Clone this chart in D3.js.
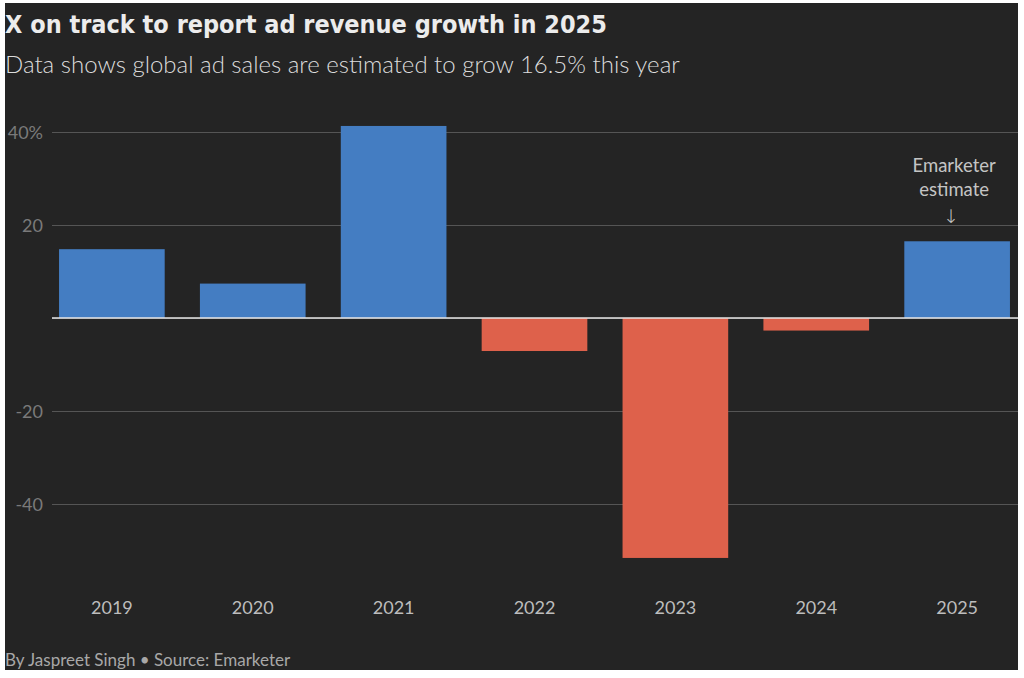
<!DOCTYPE html>
<html>
<head>
<meta charset="utf-8">
<script src="https://cdn.jsdelivr.net/npm/d3@7"></script>
<style>
  body { margin: 0; background: #fff; }
</style>
</head>
<body>
<div id="chart"></div>
<script>
// data
var years = ["2019", "2020", "2021", "2022", "2023", "2024", "2025"];
var growth = [14.8, 7.4, 41.3, -7.1, -51.6, -2.7, 16.5];
var yTicks = [-40, -20, 0, 20, 40];

var W = 1024, H = 678;
var margin = {top: 132, right: 7, bottom: 120, left: 52};

var svg = d3.select("#chart")
  .append("svg")
    .attr("width", W)
    .attr("height", H);

// dark panel
svg.append("rect")
  .attr("x", 5).attr("y", 3)
  .attr("width", 1013).attr("height", 667)
  .attr("fill", "#242424");

var x = d3.scaleBand()
  .domain(years)
  .range([margin.left, W - margin.right])
  .paddingInner(0.25)
  .paddingOuter(0.05);

var y = d3.scaleLinear()
  .domain([-40, 40])
  .range([504, 132]);

// gridlines + tick labels
var yAxis = svg.append("g")
  .attr("transform", "translate(" + margin.left + ",0)")
  .call(d3.axisLeft(y)
    .tickValues(yTicks)
    .tickSize(-(1018 - margin.left))
    .tickFormat(function(d){ return d == 40 ? "40%" : d; }));
yAxis.select(".domain").remove();
yAxis.selectAll(".tick line")
  .attr("stroke", "#555")
  .attr("stroke-width", 1.2);
yAxis.selectAll(".tick text")
  .attr("x", -9)
  .attr("dy", "0.35em")
  .attr("fill", "#7a7a7a")
  .attr("font-family", "Lato, sans-serif")
  .attr("font-size", "18px");
yAxis.selectAll(".tick").filter(function(d){ return d === 0; }).select("text").remove();

// bars
svg.selectAll("rect.bar")
  .data(years)
  .enter()
  .append("rect")
    .attr("class", "bar")
    .attr("x", function(d){ return x(d); })
    .attr("width", x.bandwidth())
    .attr("y", function(d, i){ return y(Math.max(0, growth[i])); })
    .attr("height", function(d, i){ return Math.abs(y(growth[i]) - y(0)); })
    .attr("fill", function(d, i){ return growth[i] >= 0 ? "#447dc2" : "#de614b"; });

// zero line
svg.append("line")
  .attr("x1", margin.left).attr("x2", 1018)
  .attr("y1", y(0)).attr("y2", y(0))
  .attr("stroke", "#e6e6e6")
  .attr("stroke-width", 1.5);

// year labels
var xAxis = svg.append("g")
  .attr("transform", "translate(0,608)")
  .call(d3.axisBottom(x).tickSize(0));
xAxis.select(".domain").remove();
xAxis.selectAll(".tick text")
  .attr("y", 0)
  .attr("dy", "0.35em")
  .attr("fill", "#bdbdbd")
  .attr("font-family", "Lato, sans-serif")
  .attr("font-size", "18px");

// annotation on the 2025 bar
var ax = x("2025") + x.bandwidth() / 2;
var note = svg.append("text")
  .attr("text-anchor", "middle")
  .attr("fill", "#c4c4c4")
  .attr("font-family", "Lato, sans-serif")
  .attr("font-size", "18.5px");
note.append("tspan").attr("x", ax - 3).attr("y", 172).text("Emarketer");
note.append("tspan").attr("x", ax - 3).attr("y", 196).text("estimate");
svg.append("text")
  .attr("x", ax - 6).attr("y", 223)
  .attr("text-anchor", "middle")
  .attr("fill", "#c4c4c4")
  .attr("font-family", "DejaVu Sans, sans-serif")
  .attr("font-size", "19px")
  .attr("font-weight", 300)
  .text("\u2193");

// title
svg.append("text")
  .attr("x", 5).attr("y", 33)
  .text("X on track to report ad revenue growth in 2025")
  .attr("font-family", "'DejaVu Sans Condensed', sans-serif")
  .attr("font-weight", "bold")
  .attr("font-size", "25px")
  .attr("fill", "#ececec");

// subtitle
svg.append("text")
  .attr("x", 5).attr("y", 73)
  .text("Data shows global ad sales are estimated to grow 16.5% this year")
  .attr("font-family", "Lato, sans-serif")
  .attr("font-weight", 300)
  .attr("font-size", "24px")
  .attr("fill", "#dcdcdc");

// footer
svg.append("text")
  .attr("x", 5).attr("y", 666)
  .text("By Jaspreet Singh \u2022 Source: Emarketer")
  .attr("font-family", "Lato, sans-serif")
  .attr("font-size", "17px")
  .attr("fill", "#a8a8a8");
</script>
</body>
</html>
